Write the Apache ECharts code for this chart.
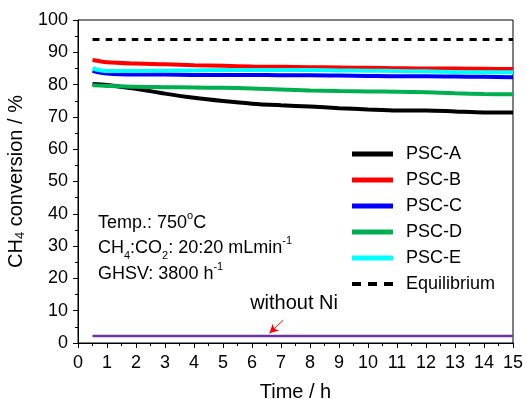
<!DOCTYPE html>
<html>
<head>
<meta charset="utf-8">
<script src="https://cdn.jsdelivr.net/npm/echarts@6/dist/echarts.min.js"></script>
<style>
  html, body { margin: 0; padding: 0; background: #fff; }
  #chart { width: 527px; height: 399px; }
</style>
</head>
<body>
<div id="chart"></div>
<script>
// Time on stream (h)
const times = [0.5, 1, 2, 3, 4, 5, 6, 7, 8, 9, 10, 11, 12, 13, 14, 15];

// CH4 conversion (%) for each catalyst
const pscA = [80.2, 79.9, 78.7, 77.2, 75.9, 74.9, 74.1, 73.6, 73.2, 72.7, 72.3, 72.0, 72.0, 71.7, 71.4, 71.4];
const pscB = [87.6, 86.9, 86.5, 86.3, 86.0, 85.8, 85.6, 85.5, 85.4, 85.3, 85.2, 85.1, 85.0, 85.0, 84.9, 84.8];
const pscC = [84.3, 83.4, 83.1, 83.1, 83.0, 83.0, 83.0, 82.9, 82.9, 82.8, 82.7, 82.6, 82.6, 82.5, 82.4, 82.3];
const pscD = [79.8, 79.6, 79.3, 79.2, 79.1, 79.0, 78.8, 78.5, 78.2, 78.0, 77.9, 77.8, 77.6, 77.3, 77.1, 77.0];
const pscE = [85.0, 84.2, 84.2, 84.3, 84.4, 84.5, 84.5, 84.5, 84.5, 84.4, 84.3, 84.2, 84.1, 83.9, 83.8, 83.8];
const equilibrium = [94, 94, 94, 94, 94, 94, 94, 94, 94, 94, 94, 94, 94, 94, 94, 94];
const withoutNi = [2.2, 2.2, 2.2, 2.2, 2.2, 2.2, 2.2, 2.2, 2.2, 2.2, 2.2, 2.2, 2.2, 2.2, 2.2, 2.2];

const seriesNames = ['PSC-A', 'PSC-B', 'PSC-C', 'PSC-D', 'PSC-E', 'Equilibrium'];
const seriesColors = ['#000000', '#ff0000', '#0000ff', '#00b050', '#00ffff', '#000000'];
const seriesValues = [pscA, pscB, pscC, pscD, pscE, equilibrium];

// Annotation arrow pointing at the Ni-free run: [tail, head] in (h, %)
const arrowTail = [7.08, 7.1];
const arrowHead = [6.6, 3.0];
const noteLabelAt = [7.45, 12.1];

const FONT = 'Liberation Sans, Arial, sans-serif';

// Legend keys: a solid bar, or three short dashes for the equilibrium limit
const SOLID_KEY = 'path://M0,0H41V5H0Z';
const DASH_KEY = 'path://M0,0H9V4H0Z M16,0H25V4H16Z M32,0H41V4H32Z';

function pairs(vals) {
  return times.map((t, i) => [t, vals[i]]);
}

const series = seriesNames.map((name, i) => ({
  name: name,
  type: 'line',
  data: pairs(seriesValues[i]),
  symbol: 'none',
  smooth: 0.3,
  z: i === 5 ? 1 : 2 + i,
  lineStyle: name === 'Equilibrium'
    ? { color: '#000', width: 3, type: [7, 6] }
    : { color: seriesColors[i], width: 4 },
  itemStyle: { color: seriesColors[i] }
}));

series.push({
  name: 'without Ni',
  type: 'line',
  data: pairs(withoutNi),
  symbol: 'none',
  lineStyle: { color: '#7030a0', width: 2.5 },
  itemStyle: { color: '#7030a0' },
  markLine: {
    silent: true,
    symbol: ['none', 'arrow'],
    symbolSize: [7, 9],
    lineStyle: { color: '#ff0000', width: 1, type: 'solid' },
    label: { show: false },
    data: [[{ coord: arrowTail }, { coord: arrowHead }]]
  },
  markPoint: {
    silent: true,
    symbol: 'circle',
    symbolSize: 0,
    label: {
      show: true,
      position: 'inside',
      formatter: 'without Ni',
      color: '#000',
      fontFamily: FONT,
      fontSize: 20
    },
    data: [{ coord: noteLabelAt }]
  }
});

const chart = echarts.init(document.getElementById('chart'), null, { renderer: 'canvas' });

chart.setOption({
  animation: false,
  backgroundColor: '#fff',
  textStyle: { fontFamily: FONT },
  grid: {
    left: 78, right: 14, top: 20, bottom: 56,
    outerBoundsMode: 'none',
    containLabel: false,
    show: true, borderColor: '#000', borderWidth: 1, backgroundColor: 'transparent'
  },
  legend: {
    orient: 'vertical',
    left: 347,
    top: 140,
    itemWidth: 41,
    itemHeight: 5,
    itemGap: 8,
    data: seriesNames.map((n, i) => ({
      name: n,
      icon: n === 'Equilibrium' ? DASH_KEY : SOLID_KEY,
      itemStyle: { color: seriesColors[i] }
    })),
    textStyle: { fontFamily: FONT, fontSize: 18, color: '#000', padding: [0, 0, 0, 8] }
  },
  xAxis: {
    type: 'value',
    min: 0, max: 15, interval: 1,
    name: 'Time / h',
    nameLocation: 'middle',
    nameGap: 39,
    nameTextStyle: { fontFamily: FONT, fontSize: 20, color: '#000' },
    axisLine: { show: true, lineStyle: { color: '#000', width: 1 } },
    axisTick: { show: true, inside: false, length: 5, lineStyle: { color: '#000' } },
    minorTick: { show: true, splitNumber: 2, length: 3, lineStyle: { color: '#000' } },
    splitLine: { show: false },
    axisLabel: { fontFamily: FONT, fontSize: 18, color: '#000', margin: 11 }
  },
  yAxis: {
    type: 'value',
    min: 0, max: 100, interval: 10,
    name: 'CH{sub|4} conversion / %',
    nameLocation: 'middle',
    nameRotate: 90,
    nameGap: 45,
    nameTextStyle: {
      fontFamily: FONT, fontSize: 20, color: '#000',
      rich: { sub: { fontFamily: FONT, fontSize: 13, color: '#000', verticalAlign: 'bottom', padding: [8, 0, 0, 0] } }
    },
    axisLine: { show: true, lineStyle: { color: '#000', width: 1 } },
    axisTick: { show: true, inside: false, length: 5, lineStyle: { color: '#000' } },
    minorTick: { show: true, splitNumber: 2, length: 3, lineStyle: { color: '#000' } },
    splitLine: { show: false },
    axisLabel: { fontFamily: FONT, fontSize: 18, color: '#000', margin: 10 }
  },
  graphic: [{
    type: 'text',
    left: 98,
    top: 210,
    style: {
      text: 'Temp.: 750{sup|o}C\nCH{sub|4}:CO{sub|2}: 20:20 mLmin{sup|-1}\nGHSV: 3800 h{sup|-1}',
      fontFamily: FONT,
      fontSize: 18,
      lineHeight: 25.5,
      fill: '#000',
      rich: {
        sup: { fontFamily: FONT, fontSize: 11, fill: '#000', verticalAlign: 'top', lineHeight: 25.5, padding: [0, 0, 8, 0] },
        sub: { fontFamily: FONT, fontSize: 11, fill: '#000', verticalAlign: 'bottom', lineHeight: 25.5, padding: [8, 0, 0, 0] }
      }
    }
  }],
  series: series
});
</script>
</body>
</html>
